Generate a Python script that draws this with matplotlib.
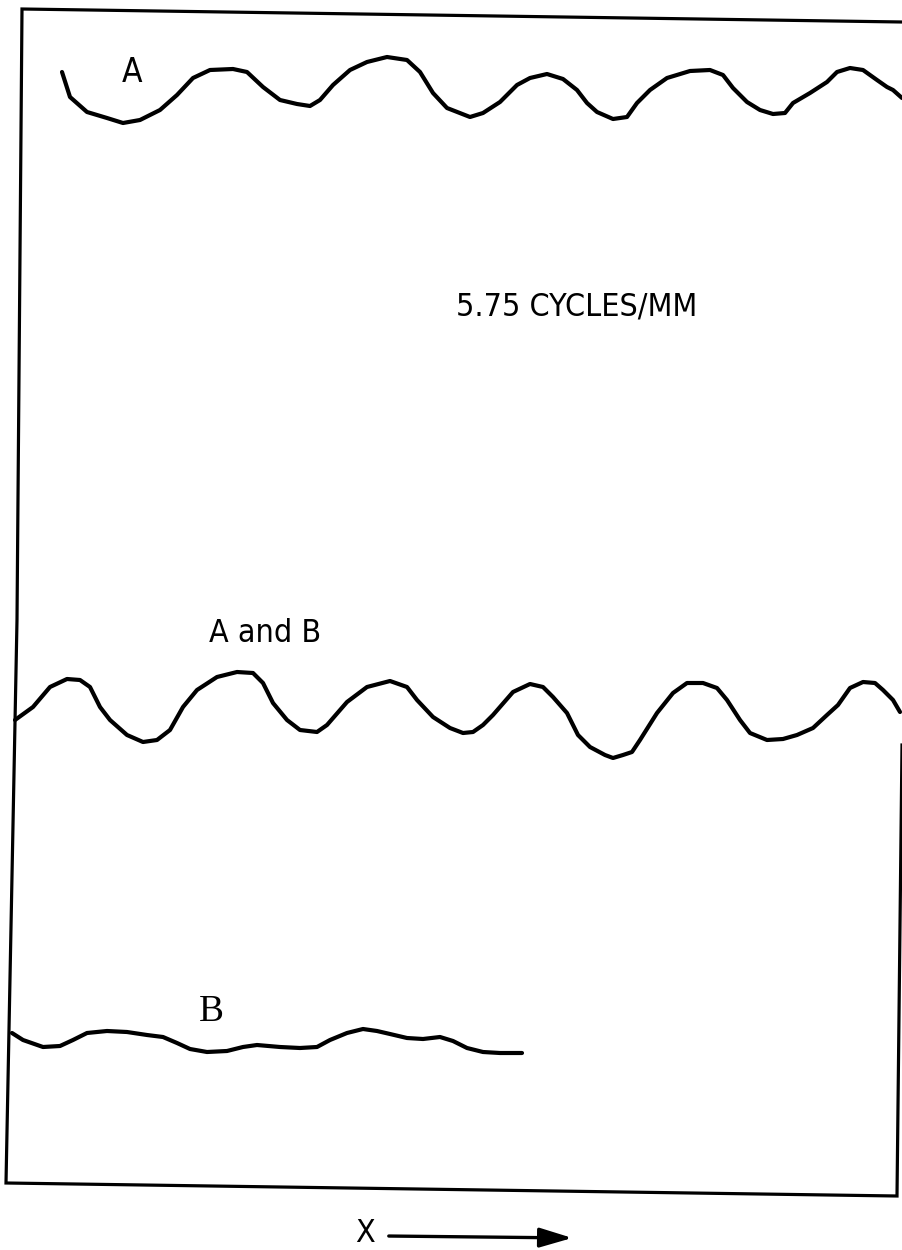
import matplotlib
matplotlib.use("Agg")
import matplotlib.pyplot as plt
from matplotlib import font_manager

# trace A, top of the sheet
A_X = [62, 70, 87, 107, 123, 140, 160, 177, 193, 210, 233, 247, 263, 280, 297, 310, 320, 333,
       350, 367, 387, 407, 420, 433, 447, 470, 483, 500, 517, 530, 547, 563, 577, 587, 597, 613,
       627, 637, 650, 667, 690, 710, 723, 733, 747, 760, 773, 785, 793, 810, 827, 837, 850, 863,
       877, 887, 893, 902]
A_Y = [72, 97, 112, 118, 123, 120, 110, 95, 78, 70, 69, 72, 87, 100, 104, 106, 100, 85,
       70, 62, 57, 60, 72, 93, 108, 117, 113, 102, 85, 78, 74, 79, 90, 103, 112, 119,
       117, 103, 90, 78, 71, 70, 75, 88, 102, 110, 114, 113, 103, 93, 82, 72, 68, 70,
       80, 87, 90, 98]

# trace A and B combined
AB_X = [15, 33, 50, 67, 80, 90, 100, 110, 127, 143, 157, 170, 183, 197, 217, 237, 253, 263,
        273, 287, 300, 317, 327, 347, 367, 390, 407, 417, 433, 450, 463, 473, 483, 493, 513,
        530, 543, 553, 567, 578, 590, 605, 613, 623, 632, 640, 657, 673, 687, 703, 717, 727,
        740, 750, 767, 783, 797, 813, 827, 838, 850, 863, 875, 883, 893, 900]
AB_Y = [720, 707, 687, 679, 680, 687, 707, 720, 735, 742, 740, 730, 707, 690, 677, 672, 673, 683,
        703, 720, 730, 732, 725, 702, 687, 681, 687, 700, 717, 728, 733, 732, 725, 715, 692,
        684, 687, 697, 713, 735, 747, 755, 758, 755, 752, 740, 713, 693, 683, 683, 688, 700,
        720, 733, 740, 739, 735, 728, 715, 705, 688, 682, 683, 690, 700, 712]

# trace B alone
B_X = [12, 23, 43, 60, 73, 87, 107, 127, 147, 163, 177, 190, 207, 227, 243, 257, 280, 300,
       317, 330, 347, 363, 377, 390, 407, 423, 440, 453, 467, 483, 500, 522]
B_Y = [1033, 1040, 1047, 1046, 1040, 1033, 1031, 1032, 1035, 1037, 1043, 1049, 1052, 1051,
       1047, 1045, 1047, 1048, 1047, 1040, 1033, 1029, 1031, 1034, 1038, 1039, 1037, 1041,
       1048, 1052, 1053, 1053]

# hand drawn frame (right side runs off the sheet above the middle trace)
FRAME_X = [902, 22, 17, 6, 897, 902]
FRAME_Y = [22, 9, 620, 1183, 1196, 745]

LABELS = ["A", "A and B", "B"]
FREQ_TEXT = "5.75 CYCLES/MM"
AXIS_TEXT = "X"


def lettering_font():
    # narrow lettering if a condensed face is installed, else plain sans
    for f in font_manager.fontManager.ttflist:
        if f.name in ("DejaVu Sans", "Liberation Sans Narrow") and 'ondensed' in str(f.stretch) + f.fname:
            return dict(family=f.name, stretch='condensed'), True
    for f in font_manager.fontManager.ttflist:
        if f.name == "Liberation Sans Narrow":
            return dict(family=f.name), True
    return dict(family="Roboto"), False


def main():
    sans, narrow = lettering_font()
    serif = dict(family="Liberation Serif")

    fig = plt.figure(figsize=(9.02, 12.5), dpi=100)
    ax = fig.add_axes([0, 0, 1, 1])
    ax.set_xlim(0, 902)
    ax.set_ylim(1250, 0)
    ax.axis('off')

    ax.plot(FRAME_X, FRAME_Y, color='black', lw=2.3, solid_joinstyle='miter')

    for xs, ys in [(A_X, A_Y), (AB_X, AB_Y), (B_X, B_Y)]:
        ax.plot(xs, ys, color='black', lw=3.0, solid_joinstyle='round', solid_capstyle='round')

    big = 23 if narrow else 20
    ax.text(132, 73, LABELS[0], fontsize=big + 1, ha='center', va='center', **sans)
    ax.text(265, 633, LABELS[1], fontsize=big, ha='center', va='center', **sans)
    ax.text(211, 1012, LABELS[2], fontsize=27, ha='center', va='center', **serif)
    ax.text(577, 307, FREQ_TEXT, fontsize=big, ha='center', va='center', **sans)

    ax.text(365, 1233, AXIS_TEXT, fontsize=big, ha='center', va='center', **sans)
    ax.annotate('', xy=(575, 1238), xytext=(386, 1236),
                arrowprops=dict(arrowstyle='-|>,head_length=1.0,head_width=0.3',
                                mutation_scale=20, lw=2.4, color='black'))

    fig.savefig('out.png', dpi=100, facecolor='white')


if __name__ == "__main__":
    main()
